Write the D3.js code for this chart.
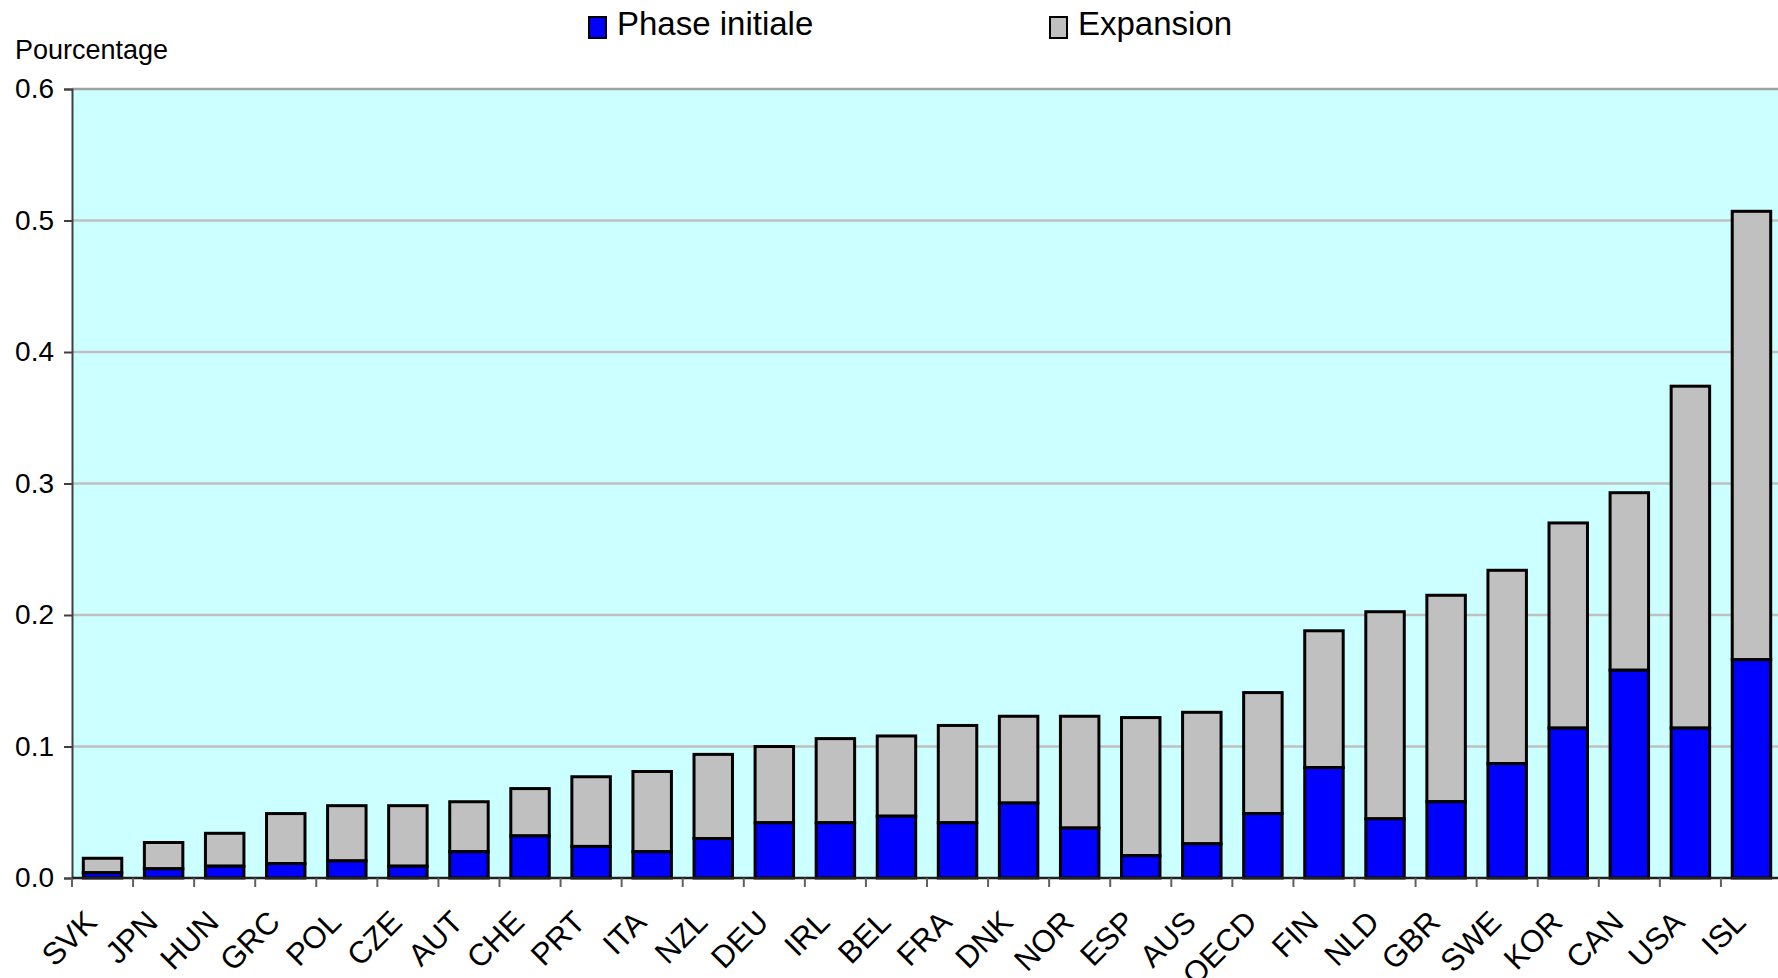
<!DOCTYPE html>
<html>
<head>
<meta charset="utf-8">
<script src="https://cdn.jsdelivr.net/npm/d3@7"></script>
<style>
  body { margin: 0; background: #fff; }
  svg { display: block; font-family: "Liberation Sans", Arial, sans-serif; }
</style>
</head>
<body>
<div class="graph"></div>
<script>
// data
const countries = ["SVK", "JPN", "HUN", "GRC", "POL", "CZE", "AUT", "CHE", "PRT", "ITA",
  "NZL", "DEU", "IRL", "BEL", "FRA", "DNK", "NOR", "ESP", "AUS", "OECD",
  "FIN", "NLD", "GBR", "SWE", "KOR", "CAN", "USA", "ISL"];
const phaseInitiale = [0.004, 0.007, 0.009, 0.011, 0.013, 0.009, 0.020, 0.032, 0.024, 0.020,
  0.030, 0.042, 0.042, 0.047, 0.042, 0.057, 0.038, 0.017, 0.026, 0.049,
  0.084, 0.045, 0.058, 0.087, 0.114, 0.158, 0.114, 0.166];
const totals = [0.015, 0.027, 0.034, 0.049, 0.055, 0.055, 0.058, 0.068, 0.077, 0.081,
  0.094, 0.100, 0.106, 0.108, 0.116, 0.123, 0.123, 0.122, 0.126, 0.141,
  0.188, 0.2025, 0.215, 0.234, 0.270, 0.293, 0.374, 0.507];
const yTicks = [0, 0.1, 0.2, 0.3, 0.4, 0.5, 0.6];
const legendLabels = ["Phase initiale", "Expansion"];

const W = 1778, H = 978;
const margins = { top: 89, right: -4, bottom: 100, left: 72 };
const width = W - margins.left - margins.right;
const height = H - margins.top - margins.bottom;

const blue = "#0000ff";
const grey = "#c0c0c0";

const svg = d3.select(".graph")
  .append("svg")
  .attr("width", W)
  .attr("height", H);

const x = d3.scaleBand().domain(countries).range([0, width])
  .paddingInner(0.37).paddingOuter(0.185);
const y = d3.scaleLinear().domain([0, 0.6]).range([height, 0]);

const g = svg.append("g")
  .attr("transform", `translate(${margins.left},${margins.top})`);

// plot area
g.append("rect")
  .attr("width", width)
  .attr("height", height)
  .attr("fill", "#ccffff");

// gridlines
g.selectAll(".grid")
  .data(yTicks.filter((d) => d > 0))
  .enter()
  .append("line")
  .attr("x1", 0)
  .attr("x2", width)
  .attr("y1", (d) => y(d))
  .attr("y2", (d) => y(d))
  .attr("stroke", (d) => (d === 0.6 ? "#a0a0a0" : grey))
  .attr("stroke-width", 2.5);

// stacked bars
const rows = countries.map((c, i) => ({
  country: c,
  initial: phaseInitiale[i],
  total: totals[i],
}));

const barGroups = g.selectAll(".bar")
  .data(rows)
  .enter()
  .append("g")
  .attr("class", "bar");

barGroups.append("rect")
  .attr("x", (d) => x(d.country))
  .attr("y", (d) => y(d.total))
  .attr("width", x.bandwidth())
  .attr("height", (d) => y(d.initial) - y(d.total))
  .attr("fill", grey)
  .attr("stroke", "#000")
  .attr("stroke-width", 3);

barGroups.append("rect")
  .attr("x", (d) => x(d.country))
  .attr("y", (d) => y(d.initial))
  .attr("width", x.bandwidth())
  .attr("height", (d) => height - y(d.initial))
  .attr("fill", blue)
  .attr("stroke", "#000")
  .attr("stroke-width", 3);

// y axis
const yAxis = d3.axisLeft(y)
  .tickValues(yTicks)
  .tickFormat(d3.format(".1f"))
  .tickSize(8)
  .tickPadding(10);

const yAxisG = g.append("g").call(yAxis);
yAxisG.select(".domain").attr("stroke", "#404040").attr("stroke-width", 2);
yAxisG.selectAll(".tick line").attr("stroke", "#404040").attr("stroke-width", 2);
yAxisG.selectAll(".tick text")
  .attr("font-size", 28)
  .attr("font-family", "Liberation Sans, Arial, sans-serif")
  .attr("fill", "#000");

// x axis: ticks between categories
const xAxisG = g.append("g").attr("transform", `translate(0,${height})`);
xAxisG.append("line")
  .attr("x1", 0)
  .attr("x2", width)
  .attr("stroke", "#202020")
  .attr("stroke-width", 2.5);

const step = x.step();
const boundaries = countries.map((c) => x(c) - (step - x.bandwidth()) / 2);
xAxisG.selectAll(".xtick")
  .data(boundaries)
  .enter()
  .append("line")
  .attr("x1", (d) => d)
  .attr("x2", (d) => d)
  .attr("y1", 0)
  .attr("y2", 9)
  .attr("stroke", "#606060")
  .attr("stroke-width", 2);

xAxisG.selectAll(".xlabel")
  .data(countries)
  .enter()
  .append("text")
  .attr("transform", (d) => `translate(${x(d) + x.bandwidth() / 2 - 4},${46}) rotate(-45)`)
  .attr("text-anchor", "end")
  .attr("font-size", 31)
  .attr("fill", "#000")
  .text((d) => d);

// y axis title
svg.append("text")
  .attr("x", 15)
  .attr("y", 59)
  .attr("font-size", 27)
  .attr("fill", "#000")
  .text("Pourcentage");

// legend
const legendPos = [588, 1049];
const legendColors = [blue, grey];
const legend = svg.selectAll(".legend")
  .data(legendLabels)
  .enter()
  .append("g")
  .attr("class", "legend")
  .attr("transform", (d, i) => `translate(${legendPos[i]},0)`);

legend.append("rect")
  .attr("x", 1)
  .attr("y", 17)
  .attr("width", 17)
  .attr("height", 21)
  .attr("fill", (d, i) => legendColors[i])
  .attr("stroke", "#000")
  .attr("stroke-width", 2);

legend.append("text")
  .attr("x", 29)
  .attr("y", 35)
  .attr("font-size", 33)
  .attr("fill", "#000")
  .text((d) => d);
</script>
</body>
</html>
